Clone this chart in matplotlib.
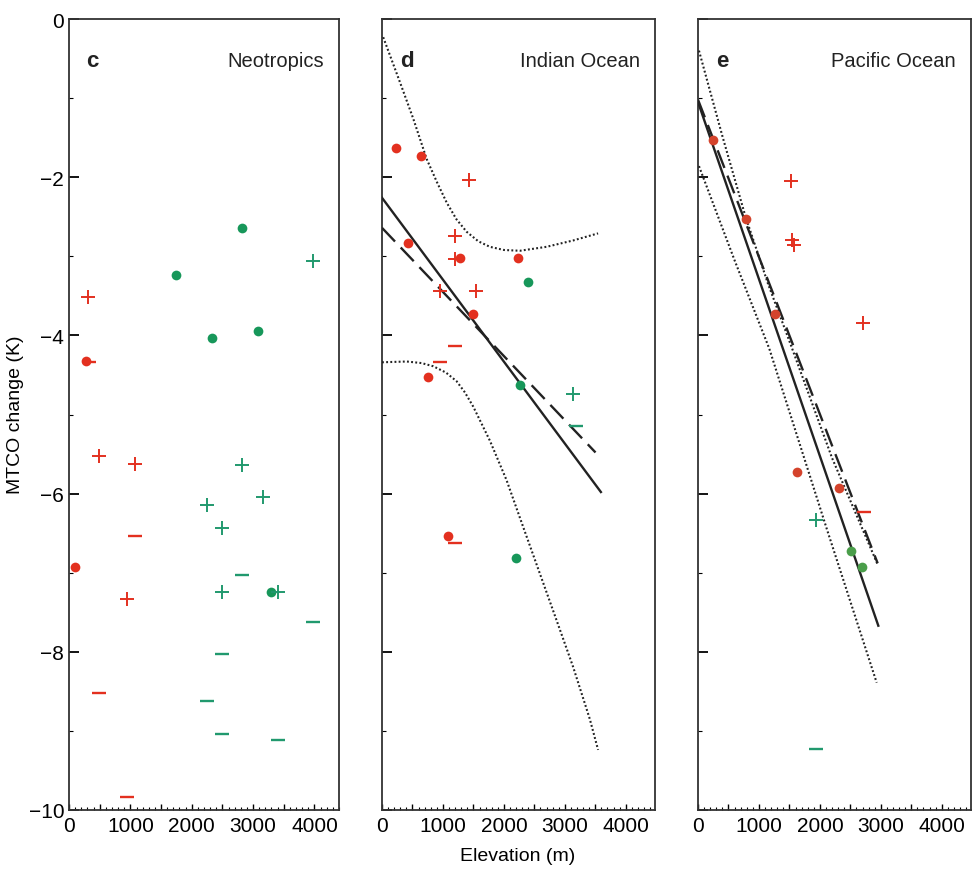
import matplotlib
matplotlib.use("Agg")
import matplotlib.pyplot as plt
from matplotlib.ticker import MultipleLocator, FuncFormatter

plt.rcParams['font.family'] = ['Liberation Sans', 'DejaVu Sans']

RED = '#e3301f'
GREEN = '#17975a'
TEAL = '#21996e'

# ---------------- Panel c : Neotropics ----------------
c_red_dot_x = [275, 100]
c_red_dot_y = [-4.32, -6.93]
c_red_plus_x = [310, 490, 1070, 950]
c_red_plus_y = [-3.52, -5.53, -5.63, -7.33]
c_red_minus_x = [330, 1070, 490, 950]
c_red_minus_y = [-4.33, -6.53, -8.52, -9.83]
c_grn_dot_x = [1744, 2813, 2327, 3082, 3292]
c_grn_dot_y = [-3.24, -2.64, -4.03, -3.94, -7.24]
c_grn_plus_x = [3984, 2813, 3163, 2251, 2489, 2499, 3406]
c_grn_plus_y = [-3.06, -5.64, -6.04, -6.14, -6.44, -7.25, -7.25]
c_grn_minus_x = [2813, 3984, 2499, 2246, 2499, 3406]
c_grn_minus_y = [-7.03, -7.62, -8.03, -8.62, -9.04, -9.12]

# ---------------- Panel d : Indian Ocean ----------------
d_red_dot_x = [231, 640, 425, 1278, 2226, 1493, 755, 1080]
d_red_dot_y = [-1.63, -1.73, -2.83, -3.02, -3.02, -3.73, -4.53, -6.53]
d_red_plus_x = [1433, 1195, 1195, 947, 1537]
d_red_plus_y = [-2.03, -2.74, -3.04, -3.44, -3.44]
d_red_minus_x = [1195, 947, 1195]
d_red_minus_y = [-4.13, -4.33, -6.63]
d_grn_dot_x = [2392, 2264, 2203]
d_grn_dot_y = [-3.33, -4.63, -6.82]
d_grn_plus_x = [3135]
d_grn_plus_y = [-4.74]
d_grn_minus_x = [3190]
d_grn_minus_y = [-5.14]
d_solid_x = [0, 3592]
d_solid_y = [-2.26, -5.98]
d_dash_x = [0, 3504]
d_dash_y = [-2.64, -5.48]
d_up_x = [20, 295, 513, 733, 900, 1061, 1220, 1389, 1580, 1770, 2000, 2262,
          2700, 3136, 3546]
d_up_y = [-0.23, -0.80, -1.26, -1.77, -2.06, -2.32, -2.53, -2.69, -2.81,
          -2.88, -2.92, -2.93, -2.88, -2.80, -2.71]
d_lo_x = [0, 405, 650, 841, 1050, 1225, 1360, 1497, 1770, 2044, 2316, 2590,
          2864, 3136, 3410, 3546]
d_lo_y = [-4.34, -4.33, -4.35, -4.39, -4.47, -4.58, -4.72, -4.90, -5.33,
          -5.83, -6.42, -7.01, -7.60, -8.19, -8.85, -9.24]

# ---------------- Panel e : Pacific Ocean ----------------
e_red_dot_x = [239, 780, 1268, 1621, 2320]
e_red_dot_y = [-1.53, -2.53, -3.73, -5.73, -5.93]
e_red_plus_x = [1534, 1550, 1570, 2715]
e_red_plus_y = [-2.05, -2.80, -2.86, -3.84]
e_red_minus_x = [2727]
e_red_minus_y = [-6.23]
e_grn_dot_x = [2515, 2699]
e_grn_dot_y = [-6.73, -6.93]
e_grn_plus_x = [1930]
e_grn_plus_y = [-6.34]
e_grn_minus_x = [1940]
e_grn_minus_y = [-9.23]
e_solid_x = [0, 2959]
e_solid_y = [-1.05, -7.67]
e_dash_x = [0, 2948]
e_dash_y = [-1.02, -6.88]
e_up_x = [16, 400, 780, 1150, 1523, 2200, 2950]
e_up_y = [-0.40, -1.48, -2.50, -3.35, -4.12, -5.55, -6.90]
e_lo_x = [16, 600, 1171, 2119, 2932]
e_lo_y = [-1.86, -3.05, -4.17, -6.46, -8.39]

fig = plt.figure(figsize=(9.74, 8.70), dpi=100)
W, H = 974.0, 870.0
def add_ax(left, right):
    return fig.add_axes([left / W, (H - 811) / H, (right - left) / W, 791 / H])

axc = add_ax(69, 339)
axd = add_ax(382, 655)
axe = add_ax(698, 971)

NARROW = ['Liberation Sans Narrow', 'Liberation Sans', 'DejaVu Sans']

def style(ax, xmax, ylabels):
    ax.set_xlim(0, xmax)
    ax.set_ylim(-10, 0)
    for s in ax.spines.values():
        s.set_linewidth(1.3)
        s.set_color('#333333')
    ax.xaxis.set_major_locator(MultipleLocator(500))
    ax.xaxis.set_minor_locator(MultipleLocator(100))
    ax.xaxis.set_major_formatter(FuncFormatter(
        lambda v, p: '%d' % v if abs(v % 1000) < 1e-6 else ''))
    ax.yaxis.set_major_locator(MultipleLocator(2))
    ax.yaxis.set_minor_locator(MultipleLocator(1))
    ax.yaxis.set_major_formatter(FuncFormatter(
        lambda v, p: ('%d' % v).replace('-', '\u2212')))
    ax.tick_params(axis='x', which='major', direction='in', length=4,
                   width=1, labelsize=15, pad=4, top=False)
    ax.tick_params(axis='x', which='minor', direction='in', length=2,
                   width=0.8, top=False)
    ax.tick_params(axis='y', which='major', direction='in', length=7,
                   width=1.3, labelsize=15, right=False, labelleft=ylabels)
    ax.tick_params(axis='y', which='minor', direction='in', length=3,
                   width=0.8, right=False)
    for lab in ax.get_xticklabels():
        lab.set_family(NARROW)

def draw_points(ax, rdx, rdy, rpx, rpy, rmx, rmy, gdx, gdy, gpx, gpy, gmx, gmy,
                red=RED, gdot=GREEN):
    ax.plot(rdx, rdy, 'o', color=red, ms=7, mew=0, zorder=5)
    ax.plot(rpx, rpy, '+', color=RED, ms=10, mew=1.4, zorder=5)
    ax.plot(rmx, rmy, '_', color=RED, ms=10, mew=1.7, zorder=5)
    ax.plot(gdx, gdy, 'o', color=gdot, ms=7, mew=0, zorder=5)
    ax.plot(gpx, gpy, '+', color=TEAL, ms=10, mew=1.4, zorder=5)
    ax.plot(gmx, gmy, '_', color=TEAL, ms=10, mew=1.7, zorder=5)

style(axc, 4400, True)
style(axd, 4480, False)
style(axe, 4480, False)

draw_points(axc, c_red_dot_x, c_red_dot_y, c_red_plus_x, c_red_plus_y,
            c_red_minus_x, c_red_minus_y, c_grn_dot_x, c_grn_dot_y,
            c_grn_plus_x, c_grn_plus_y, c_grn_minus_x, c_grn_minus_y)
draw_points(axd, d_red_dot_x, d_red_dot_y, d_red_plus_x, d_red_plus_y,
            d_red_minus_x, d_red_minus_y, d_grn_dot_x, d_grn_dot_y,
            d_grn_plus_x, d_grn_plus_y, d_grn_minus_x, d_grn_minus_y)
draw_points(axe, e_red_dot_x, e_red_dot_y, e_red_plus_x, e_red_plus_y,
            e_red_minus_x, e_red_minus_y, e_grn_dot_x, e_grn_dot_y,
            e_grn_plus_x, e_grn_plus_y, e_grn_minus_x, e_grn_minus_y,
            red='#d4432c', gdot='#4a9e4a')

LW = 1.7
for ax, sx, sy, dx, dy, ux, uy, lx, ly in [
        (axd, d_solid_x, d_solid_y, d_dash_x, d_dash_y, d_up_x, d_up_y, d_lo_x, d_lo_y),
        (axe, e_solid_x, e_solid_y, e_dash_x, e_dash_y, e_up_x, e_up_y, e_lo_x, e_lo_y)]:
    ax.plot(sx, sy, '-', color='#222222', lw=LW, zorder=3)
    ax.plot(dx, dy, color='#222222', lw=LW, dashes=(8, 3.5), zorder=3)
    ax.plot(ux, uy, color='#222222', lw=1.5, dashes=(0.9, 1.1), zorder=3)
    ax.plot(lx, ly, color='#222222', lw=1.5, dashes=(0.9, 1.1), zorder=3)

for ax, letter, name in [(axc, 'c', 'Neotropics'), (axd, 'd', 'Indian Ocean'),
                         (axe, 'e', 'Pacific Ocean')]:
    ax.text(0.065, 0.948, letter, transform=ax.transAxes, fontsize=16,
            fontweight='bold', ha='left', va='center', color='#222222')
    ax.text(0.945, 0.9475, name, transform=ax.transAxes, fontsize=14.5,
            ha='right', va='center', color='#222222')

fig.text(16 / W, 1 - 415 / H, 'MTCO change (K)', rotation=90, ha='center',
         va='center', fontsize=14, family=NARROW)
fig.text(518 / W, 1 - 857 / H, 'Elevation (m)', ha='center', va='center',
         fontsize=14, family=NARROW)

fig.savefig('out.png', dpi=100)
